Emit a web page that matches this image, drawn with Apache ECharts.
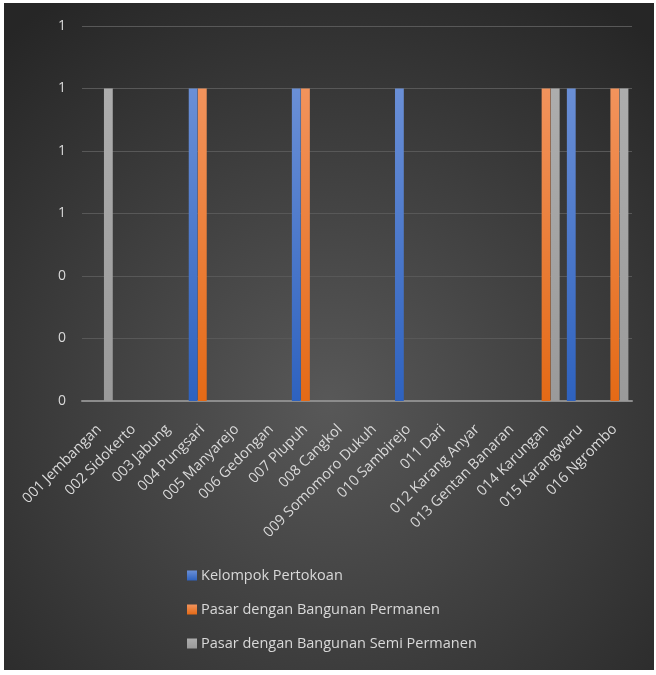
<!DOCTYPE html>
<html>
<head>
<meta charset="utf-8">
<script src="https://cdn.jsdelivr.net/npm/echarts@6/dist/echarts.min.js"></script>
<style>
html,body{margin:0;padding:0;background:#ffffff;}
#c{position:absolute;left:4px;top:3px;width:650px;height:667px;}
</style>
</head>
<body>
<div id="c"></div>
<script>
const categories = ["001 Jembangan","002 Sidokerto","003 Jabung","004 Pungsari","005 Manyarejo","006 Gedongan","007 Plupuh","008 Cangkol","009 Somomoro Dukuh","010 Sambirejo","011 Dari","012 Karang Anyar","013 Gentan Banaran","014 Karungan","015 Karangwaru","016 Ngrombo"];
const kelompokPertokoan = [0,0,0,1,0,0,1,0,0,1,0,0,0,0,1,0];
const pasarPermanen     = [0,0,0,1,0,0,1,0,0,0,0,0,0,1,0,1];
const pasarSemiPermanen = [1,0,0,0,0,0,0,0,0,0,0,0,0,1,0,1];
const seriesNames = ["Kelompok Pertokoan","Pasar dengan Bangunan Permanen","Pasar dengan Bangunan Semi Permanen"];

const chart = echarts.init(document.getElementById('c'), null, {renderer:'canvas'});
function grad(top, bottom){
  return new echarts.graphic.LinearGradient(0,0,0,1,[{offset:0,color:top},{offset:1,color:bottom}]);
}
const font = "'Open Sans', 'Noto Sans', sans-serif";
chart.setOption({
  backgroundColor: new echarts.graphic.RadialGradient(0.5,0.6,0.75,[
    {offset:0,color:'#585858'},{offset:1,color:'#262626'}
  ]),
  animation:false,
  grid:{left:78,right:22,top:23,bottom:269,containLabel:false},
  legend:{
    orient:'vertical', left:178, top:560, itemWidth:10, itemHeight:10, itemGap:19,
    icon:'rect',
    textStyle:{color:'#d9d9d9',fontSize:14.5,fontFamily:font,padding:[0,0,0,-1]},
    data:seriesNames
  },
  xAxis:{
    type:'category', data:categories,
    axisLine:{lineStyle:{color:'#8c8c8c',width:2}},
    axisTick:{show:false},
    axisLabel:{rotate:45,color:'#d9d9d9',fontSize:14.5,fontFamily:font,interval:0,margin:26}
  },
  yAxis:{
    type:'value', min:0, max:1.2, interval:0.2,
    axisLine:{show:false}, axisTick:{show:false},
    splitLine:{lineStyle:{color:'#585858',width:1}},
    axisLabel:{color:'#d9d9d9',fontSize:14,fontFamily:font,margin:16,
      formatter:function(v){return String(Math.round(v));}}
  },
  series:[
    {name:seriesNames[0],type:'bar',data:kelompokPertokoan,barGap:'4%',barCategoryGap:'21%',
      itemStyle:{color:grad('#6a8fd6','#2e62bf')}},
    {name:seriesNames[1],type:'bar',data:pasarPermanen,barGap:'4%',barCategoryGap:'21%',
      itemStyle:{color:grad('#f2935c','#e46a16')}},
    {name:seriesNames[2],type:'bar',data:pasarSemiPermanen,barGap:'4%',barCategoryGap:'21%',
      itemStyle:{color:grad('#adadad','#9a9a9a')}}
  ]
});
</script>
</body>
</html>
